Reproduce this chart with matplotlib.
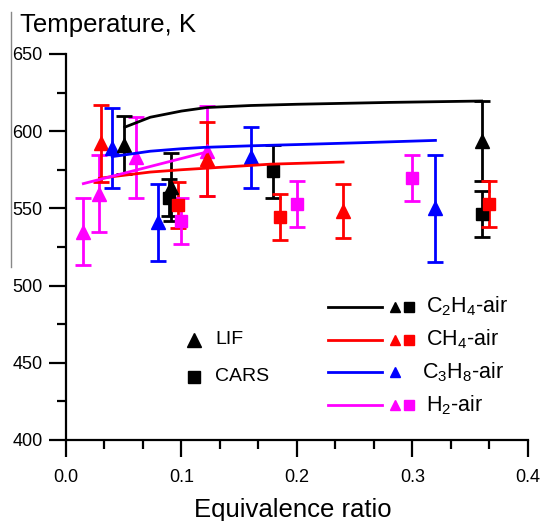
#!/usr/bin/env python3
"""Flame temperature vs equivalence ratio: LIF / CARS points with model curves."""

import matplotlib

matplotlib.use("Agg")
import matplotlib.pyplot as plt
from matplotlib.lines import Line2D
from matplotlib.ticker import MultipleLocator

plt.rcParams["font.family"] = ["Liberation Sans", "DejaVu Sans"]
plt.rcParams["mathtext.default"] = "regular"

# model curves
c2h4_line_x = [0.051, 0.073, 0.10, 0.122, 0.16, 0.20, 0.28, 0.36]
c2h4_line_y = [602.6, 609.0, 613.0, 615.3, 616.6, 617.4, 618.6, 619.5]
ch4_line_x = [0.029, 0.073, 0.10, 0.177, 0.24]
ch4_line_y = [569.5, 573.5, 575.0, 578.6, 580.0]
c3h8_line_x = [0.04, 0.073, 0.10, 0.12, 0.16, 0.20, 0.26, 0.32]
c3h8_line_y = [583.5, 587.0, 588.6, 589.5, 590.5, 591.3, 592.6, 594.0]
h2_line_x = [0.015, 0.122]
h2_line_y = [566.0, 586.5]

# LIF (triangles)
c2h4_lif_x = [0.05, 0.091, 0.36]
c2h4_lif_y = [591.0, 564.0, 593.5]
c2h4_lif_err = [18.5, 22.0, 26.0]
ch4_lif_x = [0.03, 0.122, 0.24]
ch4_lif_y = [592.0, 582.0, 548.5]
ch4_lif_err = [25.0, 24.0, 17.5]
c3h8_lif_x = [0.04, 0.08, 0.16, 0.32]
c3h8_lif_y = [589.0, 541.0, 583.0, 550.0]
c3h8_lif_err = [26.0, 25.0, 20.0, 34.5]
h2_lif_x = [0.015, 0.029, 0.061, 0.122]
h2_lif_y = [535.0, 559.6, 583.0, 587.0]
h2_lif_err = [21.5, 25.0, 26.0, 29.0]

# CARS (squares)
c2h4_cars_x = [0.089, 0.179, 0.36]
c2h4_cars_y = [557.0, 574.0, 546.5]
c2h4_cars_err = [12.0, 17.0, 15.0]
ch4_cars_x = [0.097, 0.185, 0.366]
ch4_cars_y = [552.0, 544.6, 553.0]
ch4_cars_err = [15.0, 15.0, 15.0]
h2_cars_x = [0.100, 0.200, 0.300]
h2_cars_y = [542.0, 553.0, 569.5]
h2_cars_err = [15.0, 15.0, 15.0]

BLACK, RED, BLUE, MAGENTA = "#000000", "#ff0000", "#0000ff", "#ff00ff"


def points(ax, x, y, err, color, marker, ms):
    ax.errorbar(x, y, yerr=err, fmt=marker, color=color, ms=ms, mec=color,
                elinewidth=2.0, capsize=6, capthick=2.0, zorder=3)


fig = plt.figure(figsize=(5.42, 5.21), dpi=100)
ax = fig.add_axes([0.1218, 0.1555, 0.852, 0.741])

for lx, ly, c in [(c2h4_line_x, c2h4_line_y, BLACK), (ch4_line_x, ch4_line_y, RED),
                  (c3h8_line_x, c3h8_line_y, BLUE), (h2_line_x, h2_line_y, MAGENTA)]:
    ax.plot(lx, ly, color=c, lw=2.0, zorder=4)

points(ax, h2_lif_x, h2_lif_y, h2_lif_err, MAGENTA, "^", 10)
points(ax, ch4_lif_x, ch4_lif_y, ch4_lif_err, RED, "^", 10)
points(ax, c3h8_lif_x, c3h8_lif_y, c3h8_lif_err, BLUE, "^", 10)
points(ax, c2h4_lif_x, c2h4_lif_y, c2h4_lif_err, BLACK, "^", 10)
points(ax, c2h4_cars_x, c2h4_cars_y, c2h4_cars_err, BLACK, "s", 8)
points(ax, ch4_cars_x, ch4_cars_y, ch4_cars_err, RED, "s", 8)
points(ax, h2_cars_x, h2_cars_y, h2_cars_err, MAGENTA, "s", 8)

ax.set_xlim(0, 0.4)
ax.set_ylim(400, 650)
ax.spines["top"].set_visible(False)
ax.spines["right"].set_visible(False)
for s in ("left", "bottom"):
    ax.spines[s].set_linewidth(1.6)
ax.xaxis.set_major_locator(MultipleLocator(0.1))
ax.xaxis.set_minor_locator(MultipleLocator(0.1 / 3))
ax.yaxis.set_major_locator(MultipleLocator(50))
ax.yaxis.set_minor_locator(MultipleLocator(25))
ax.xaxis.set_major_formatter(lambda v, p: f"{v:.1f}")
ax.tick_params(which="major", length=12, width=1.6, labelsize=13, direction="out")
ax.tick_params(which="minor", length=6.5, width=1.6, direction="out")
ax.tick_params(axis="x", pad=9)
ax.tick_params(axis="y", pad=5)

# symbol legend
ax.plot([0.111], [465], "^", color=BLACK, ms=10, clip_on=False)
ax.text(0.129, 465, "LIF", fontsize=14, va="center", ha="left")
ax.plot([0.111], [441], "s", color=BLACK, ms=8.5, clip_on=False)
ax.text(0.129, 441, "CARS", fontsize=14, va="center", ha="left")

# fuel legend
legend_rows = [
    ("C$_2$H$_4$-air", BLACK, True, 486.4, 0.312),
    ("CH$_4$-air", RED, True, 465.0, 0.312),
    ("C$_3$H$_8$-air", BLUE, False, 444.0, 0.308),
    ("H$_2$-air", MAGENTA, True, 422.7, 0.312),
]
for label, c, has_sq, ly, tx in legend_rows:
    ax.plot([0.227, 0.274], [ly, ly], color=c, lw=2.0)
    ax.plot([0.285], [ly], "^", color=c, ms=6.5)
    if has_sq:
        ax.plot([0.297], [ly], "s", color=c, ms=6.5)
    ax.text(tx, ly, label, fontsize=15.5, va="center", ha="left")

fig.text(20 / 542, 1 - 25 / 521, "Temperature, K", fontsize=18.5, va="center", ha="left")
fig.text(293 / 542, 1 - 517 / 521, "Equivalence ratio", fontsize=18.5, va="baseline", ha="center")

fig.add_artist(Line2D([11 / 542, 11 / 542], [1 - 12 / 521, 1 - 267 / 521],
                      color="#888888", lw=1.0))

fig.savefig("out.png", dpi=100)
